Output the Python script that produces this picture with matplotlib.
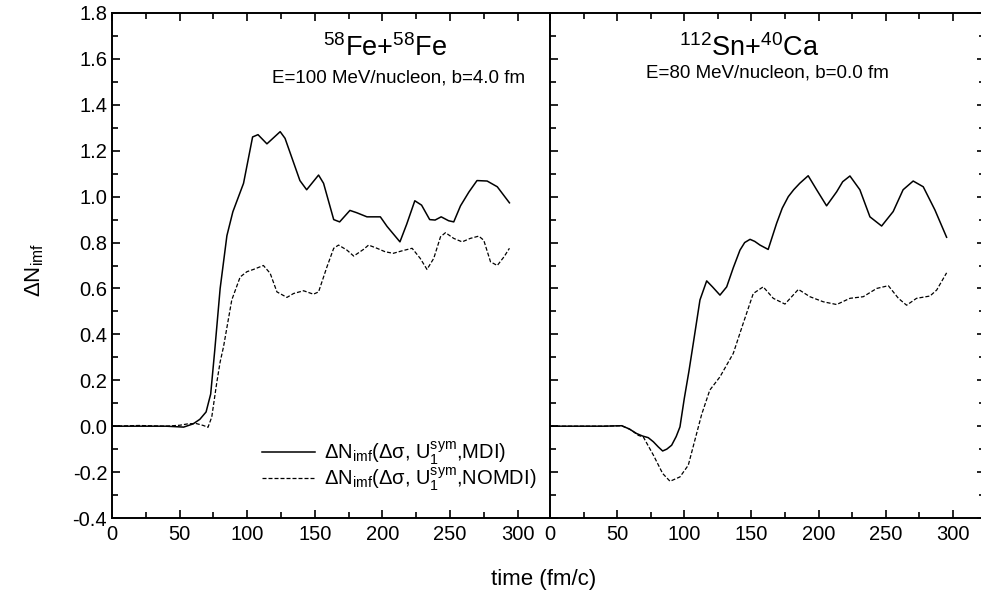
import matplotlib
matplotlib.use('Agg')
import matplotlib.pyplot as plt
from matplotlib.ticker import MultipleLocator

plt.rcParams['font.family'] = ['Liberation Sans', 'DejaVu Sans']
plt.rcParams['mathtext.fontset'] = 'custom'
plt.rcParams['mathtext.rm'] = 'Liberation Sans'
plt.rcParams['mathtext.it'] = 'Liberation Sans:italic'
plt.rcParams['axes.unicode_minus'] = False

# Fe+Fe, E=100 MeV/nucleon, b=4 fm
fe_t_mdi = [0, 20, 40, 53, 60, 65, 69.6, 73, 76, 80, 85, 89.4, 93.6, 97.3, 104, 108, 114.6,
            124.4, 128, 139, 144, 152.8, 156.5, 164, 168.4, 176, 181, 188.6, 198.5, 203.5,
            213, 218, 224, 229, 235, 239, 243.5, 249, 252.8, 257.8, 264, 270, 277.5, 285, 294]
fe_mdi = [0.0, 0.0, 0.0, -0.004, 0.01, 0.03, 0.062, 0.14, 0.33, 0.6, 0.83, 0.934, 1.0, 1.058,
          1.26, 1.27, 1.23, 1.283, 1.254, 1.07, 1.03, 1.094, 1.058, 0.90, 0.89, 0.94, 0.93,
          0.912, 0.912, 0.87, 0.803, 0.88, 0.982, 0.963, 0.90, 0.898, 0.912, 0.895, 0.89,
          0.96, 1.02, 1.07, 1.068, 1.043, 0.973]
fe_t_nomdi = [0, 20, 40, 50, 56, 62, 67.6, 71, 73.8, 77.5, 80, 82.5, 88.6, 94.8, 99.8, 104.7,
              112, 117, 122, 129.4, 134.3, 141.7, 149, 152.8, 159, 164, 167.6, 173.8, 178.8,
              186, 189.8, 196, 202, 208, 214.6, 222, 228, 233, 238, 243, 246.7, 252.8, 259,
              265, 271.3, 275, 280, 285, 290, 294]
fe_nomdi = [0.0, 0.003, 0.0, 0.004, 0.01, 0.012, 0.003, -0.005, 0.04, 0.19, 0.28, 0.346,
            0.55, 0.65, 0.673, 0.683, 0.70, 0.666, 0.585, 0.561, 0.578, 0.59, 0.575, 0.585,
            0.694, 0.775, 0.789, 0.767, 0.741, 0.77, 0.789, 0.775, 0.76, 0.753, 0.764, 0.775,
            0.731, 0.683, 0.731, 0.825, 0.843, 0.818, 0.803, 0.818, 0.828, 0.81, 0.716, 0.70,
            0.738, 0.775]

# Sn+Ca, E=80 MeV/nucleon, b=0 fm
sn_t_mdi = [0, 20, 40, 53.4, 59, 64.5, 69, 73.2, 77, 80.6, 83.9, 87, 90.6, 94, 96.8, 100,
            103.5, 106.7, 111.7, 116.7, 121, 126.6, 131.6, 136.5, 141.5, 145, 149, 152.5,
            156.4, 162.5, 168.8, 173, 177.5, 181.5, 186, 192.3, 198.6, 206, 213.5, 218,
            223.4, 230.8, 238.3, 247, 255.6, 263, 270.5, 278, 286.7, 295.4]
sn_mdi = [0.0, 0.0, 0.0, 0.002, -0.012, -0.032, -0.043, -0.05, -0.068, -0.09, -0.108, -0.1,
          -0.083, -0.045, -0.003, 0.12, 0.24, 0.36, 0.55, 0.633, 0.607, 0.571, 0.607, 0.69,
          0.767, 0.80, 0.814, 0.805, 0.789, 0.77, 0.884, 0.95, 1.0, 1.03, 1.058, 1.091, 1.03,
          0.96, 1.021, 1.065, 1.09, 1.03, 0.912, 0.872, 0.935, 1.03, 1.068, 1.043, 0.942,
          0.823]
sn_t_nomdi = [0, 20, 40, 53.4, 60, 65.8, 69.5, 77, 83.9, 89.4, 96.8, 103, 107.9, 112.9, 119,
              126.6, 136.5, 143.9, 151.4, 158.8, 166.3, 175, 185, 193.6, 203.5, 213.5, 223.4,
              233.3, 243.3, 252, 259.5, 265.6, 273, 283, 288, 295.4]
sn_nomdi = [0.0, 0.0, 0.0, 0.002, -0.015, -0.04, -0.047, -0.126, -0.206, -0.24, -0.221,
            -0.17, -0.061, 0.05, 0.157, 0.215, 0.317, 0.448, 0.578, 0.607, 0.557, 0.532,
            0.596, 0.564, 0.542, 0.53, 0.557, 0.564, 0.60, 0.612, 0.557, 0.527, 0.557, 0.567,
            0.593, 0.668]

W, H = 981, 601
fig = plt.figure(figsize=(W / 100, H / 100), dpi=100)
ax1 = fig.add_axes([112 / W, 1 - 518 / H, 438 / W, 505 / H])
ax2 = fig.add_axes([550 / W, 1 - 518 / H, 435 / W, 505 / H])

dash = (0, (3.2, 1.6))
ax1.plot(fe_t_mdi, fe_mdi, color='black', lw=1.1,
         label='ΔN$_{\\rm imf}$(Δσ, U$_{1}^{\\rm sym}$,MDI)')
ax1.plot(fe_t_nomdi, fe_nomdi, color='black', lw=0.9, linestyle=dash,
         label='ΔN$_{\\rm imf}$(Δσ, U$_{1}^{\\rm sym}$,NOMDI)')
ax2.plot(sn_t_mdi, sn_mdi, color='black', lw=1.1)
ax2.plot(sn_t_nomdi, sn_nomdi, color='black', lw=0.9, linestyle=dash)

for ax in (ax1, ax2):
    ax.set_xlim(0, 324)
    ax.set_ylim(-0.4, 1.8)
    ax.xaxis.set_major_locator(MultipleLocator(50))
    ax.xaxis.set_minor_locator(MultipleLocator(25))
    ax.yaxis.set_major_locator(MultipleLocator(0.2))
    ax.yaxis.set_minor_locator(MultipleLocator(0.1))
    ax.tick_params(which='both', direction='in', labelsize=14.5, width=1.2)
    ax.tick_params(which='major', length=6)
    ax.tick_params(which='minor', length=4)
    ax.tick_params(axis='x', pad=5)
    for s in ax.spines.values():
        s.set_linewidth(1.4)

ax1.tick_params(which='both', top=True, right=False)
ax1.yaxis.set_major_formatter(plt.FuncFormatter(lambda v, p: f'{v:.1f}'))
ax1.spines['right'].set_visible(False)
ax2.tick_params(which='both', top=True, right=True, left=True, labelleft=False)

ax1.text(0.623, 0.93, '$^{58}$Fe+$^{58}$Fe', transform=ax1.transAxes,
         ha='center', va='center', fontsize=19.5)
ax1.text(0.655, 0.871, 'E=100 MeV/nucleon, b=4.0 fm', transform=ax1.transAxes,
         ha='center', va='center', fontsize=13.5)
ax2.text(0.457, 0.93, '$^{112}$Sn+$^{40}$Ca', transform=ax2.transAxes,
         ha='center', va='center', fontsize=19.5)
ax2.text(0.501, 0.881, 'E=80 MeV/nucleon, b=0.0 fm', transform=ax2.transAxes,
         ha='center', va='center', fontsize=13.5)

ax1.legend(loc='upper left', bbox_to_anchor=(0.32, 0.176), frameon=False, fontsize=14.5,
           borderpad=0, handlelength=2.6, handletextpad=0.45, labelspacing=-0.05)

fig.text(35 / W, 1 - 270 / H, 'ΔN$_{\\rm imf}$', rotation=90, ha='center', va='center',
         fontsize=16)
fig.text(544 / W, 1 - 580 / H, 'time (fm/c)', ha='center', va='center', fontsize=16)

fig.savefig('out.png', dpi=100)
